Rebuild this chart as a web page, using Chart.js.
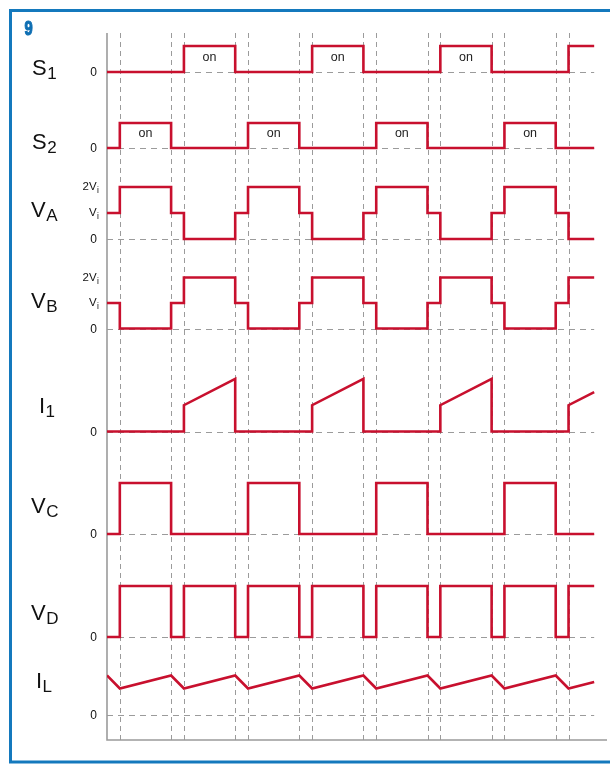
<!DOCTYPE html>
<html><head><meta charset="utf-8">
<script src="https://cdn.jsdelivr.net/npm/chart.js@4/dist/chart.umd.min.js"></script>
<style>html,body{margin:0;padding:0;background:#fff;}canvas{display:block;}</style>
</head><body>
<canvas id="c" width="610" height="764"></canvas>
<script>
// ---- data (time unit = one dead-time interval) ----
const edges     = [0,1,5,6,10,11,15,16,20,21,25,26,30,31,35,36,38];
const dashTimes = [1,5,6,10,11,15,16,20,21,25,26,30,31,35,36];
const s1Vals = [0,0,0,1, 0,0,0,1, 0,0,0,1, 0,0,0,1];
const s2Vals = [0,1,0,0, 0,1,0,0, 0,1,0,0, 0,1,0,0];
const vaVals = [1,2,1,0, 1,2,1,0, 1,2,1,0, 1,2,1,0];
const vbVals = [1,0,1,2, 1,0,1,2, 1,0,1,2, 1,0,1,2];
const vcVals = [0,2,0,0, 0,2,0,0, 0,2,0,0, 0,2,0,0];
const vdVals = [0,2,0,2, 0,2,0,2, 0,2,0,2, 0,2,0,2];
const i1Times = [0,6,6,10,10,16,16,20,20,26,26,30,30,36,36,38];
const i1Vals  = [0,0,1,2, 0, 0, 1, 2, 0, 0, 1, 2, 0, 0, 1,1.5];
const ilVals  = [1.5,1,1.5,1,1.5,1,1.5,1,1.5,1,1.5,1,1.5,1,1.5,1,1.25];
const s1On = [[6,10],[16,20],[26,30]];
const s2On = [[1,5],[11,15],[21,25],[31,35]];
const tEnd = 38;

// ---- layout (lane baselines / scale in y-axis units) ----
const lanes = {
  S1:{base:668,  amp:26,  label:['S','1'], lx:32, ly:75,  ticks:[[0,'0']]},
  S2:{base:592,  amp:25,  label:['S','2'], lx:32, ly:149, ticks:[[0,'0']]},
  VA:{base:501,  amp:26,  label:['V','A'], lx:31, ly:217, ticks:[[0,'0'],[1,'V','i'],[2,'2V','i']]},
  VB:{base:411.5,amp:25.5,label:['V','B'], lx:31, ly:308, ticks:[[0,'0'],[1,'V','i'],[2,'2V','i']]},
  I1:{base:308.5,amp:26.3,label:['I','1'], lx:39, ly:413, ticks:[[0,'0']]},
  VC:{base:206,  amp:25.5,label:['V','C'], lx:31, ly:513, ticks:[[0,'0']]},
  VD:{base:103,  amp:25.5,label:['V','D'], lx:31, ly:620, ticks:[[0,'0']]},
  IL:{base:25.5, amp:26,  label:['I','L'], lx:36, ly:688, ticks:[[0,'0']]}
};
const RED = '#c8102e', GRAY = '#9b9b9b', BLUE = '#1479bd';

function stepPts(lane, vals){
  const L = lanes[lane];
  const pts = vals.map((v,i)=>({x:edges[i], y:L.base + v*L.amp}));
  pts.push({x:tEnd, y:L.base + vals[vals.length-1]*L.amp});
  return pts;
}
function linePts(lane, ts, vals){
  const L = lanes[lane];
  return ts.map((t,i)=>({x:t, y:L.base + vals[i]*L.amp}));
}
function ds(data, stepped){
  return {data, stepped: stepped ? 'before' : false, borderColor:RED, borderWidth:2.6,
    pointRadius:0, fill:false, tension:0, borderJoinStyle:'miter', borderCapStyle:'butt'};
}

const decor = {
  id:'decor',
  beforeDraw(chart){
    const ctx = chart.ctx;
    ctx.save();
    ctx.fillStyle = '#fff';
    ctx.fillRect(0,0,chart.width,chart.height);
    ctx.restore();
  },
  beforeDatasetsDraw(chart){
    const ctx = chart.ctx, xs = chart.scales.x, ys = chart.scales.y, a = chart.chartArea;
    ctx.save();
    ctx.strokeStyle = GRAY; ctx.lineWidth = 1;
    ctx.setLineDash([5,4]);
    dashTimes.forEach(t=>{
      const x = Math.round(xs.getPixelForValue(t))+0.5;
      ctx.beginPath(); ctx.moveTo(x,a.top); ctx.lineTo(x,a.bottom); ctx.stroke();
    });
    ctx.setLineDash([6,5]);
    Object.values(lanes).forEach(L=>{
      const y = Math.round(ys.getPixelForValue(L.base))+0.5;
      ctx.beginPath(); ctx.moveTo(xs.getPixelForValue(0),y); ctx.lineTo(xs.getPixelForValue(tEnd),y); ctx.stroke();
    });
    ctx.setLineDash([]);
    ctx.lineWidth = 1.6;
    ctx.beginPath();
    ctx.moveTo(a.left, a.top); ctx.lineTo(a.left, a.bottom); ctx.lineTo(a.right, a.bottom);
    ctx.stroke();
    ctx.restore();
  },
  afterDraw(chart){
    const ctx = chart.ctx, xs = chart.scales.x, ys = chart.scales.y;
    ctx.save();
    // frame
    ctx.strokeStyle = BLUE; ctx.lineWidth = 3;
    ctx.strokeRect(10.5, 10.5, 640, 751.5);
    // figure number (condensed, heavy)
    ctx.save();
    ctx.fillStyle = '#0f6fb3'; ctx.strokeStyle = '#0f6fb3'; ctx.lineWidth = 1.2;
    ctx.font = 'bold 21px "Liberation Sans", sans-serif';
    ctx.textBaseline = 'alphabetic'; ctx.textAlign = 'left';
    ctx.translate(24.5, 35); ctx.scale(0.7, 1);
    ctx.fillText('9', 0, 0);
    ctx.strokeText('9', 0, 0);
    ctx.restore();
    // lane labels
    ctx.fillStyle = '#111';
    ctx.textAlign = 'left'; ctx.textBaseline = 'alphabetic';
    Object.values(lanes).forEach(L=>{
      ctx.font = '22px "Liberation Sans", Arial, sans-serif';
      ctx.fillText(L.label[0], L.lx, L.ly);
      const w = ctx.measureText(L.label[0]).width;
      ctx.font = '17px "Liberation Sans", Arial, sans-serif';
      ctx.fillText(L.label[1], L.lx + w + 0.5, L.ly + 3.5);
      // tick labels
      L.ticks.forEach(tk=>{
        const y = ys.getPixelForValue(L.base + tk[0]*L.amp);
        ctx.textBaseline = 'middle';
        if (tk.length === 2){
          ctx.font = '12px "Liberation Sans", Arial, sans-serif';
          ctx.textAlign = 'right';
          ctx.fillText(tk[1], 97, y + 1);
        } else {
          ctx.font = '11.5px "Liberation Sans", Arial, sans-serif';
          const w1 = ctx.measureText(tk[1]).width;
          ctx.font = '8.5px "Liberation Sans", Arial, sans-serif';
          const w2 = ctx.measureText(tk[2]).width;
          ctx.textAlign = 'left';
          const x0 = 98.5 - w1 - w2;
          ctx.font = '11.5px "Liberation Sans", Arial, sans-serif';
          ctx.fillText(tk[1], x0, y);
          ctx.font = '8.5px "Liberation Sans", Arial, sans-serif';
          ctx.fillText(tk[2], x0 + w1 + 0.3, y + 4);
        }
        ctx.textAlign = 'left';
        ctx.textBaseline = 'alphabetic';
      });
    });
    // "on" labels
    ctx.font = '12.5px "Liberation Sans", Arial, sans-serif';
    ctx.textAlign = 'center'; ctx.textBaseline = 'middle'; ctx.fillStyle = '#222';
    s1On.forEach(([a,b])=>{
      ctx.fillText('on', xs.getPixelForValue((a+b)/2), ys.getPixelForValue(lanes.S1.base + 0.56*lanes.S1.amp));
    });
    s2On.forEach(([a,b])=>{
      ctx.fillText('on', xs.getPixelForValue((a+b)/2), ys.getPixelForValue(lanes.S2.base + 0.56*lanes.S2.amp));
    });
    ctx.restore();
  }
};

new Chart(document.getElementById('c'), {
  type:'line',
  data:{ datasets:[
    ds(stepPts('S1', s1Vals), true),
    ds(stepPts('S2', s2Vals), true),
    ds(stepPts('VA', vaVals), true),
    ds(stepPts('VB', vbVals), true),
    ds(linePts('I1', i1Times, i1Vals), false),
    ds(stepPts('VC', vcVals), true),
    ds(stepPts('VD', vdVals), true),
    ds(linePts('IL', edges, ilVals), false)
  ]},
  options:{
    responsive:false, animation:false, devicePixelRatio:1,
    layout:{padding:{left:107, right:3, top:33, bottom:24}},
    plugins:{legend:{display:false}, tooltip:{enabled:false}},
    scales:{
      x:{type:'linear', min:0, max:39, display:false},
      y:{type:'linear', min:0, max:707, display:false}
    }
  },
  plugins:[decor]
});
</script>
</body></html>
